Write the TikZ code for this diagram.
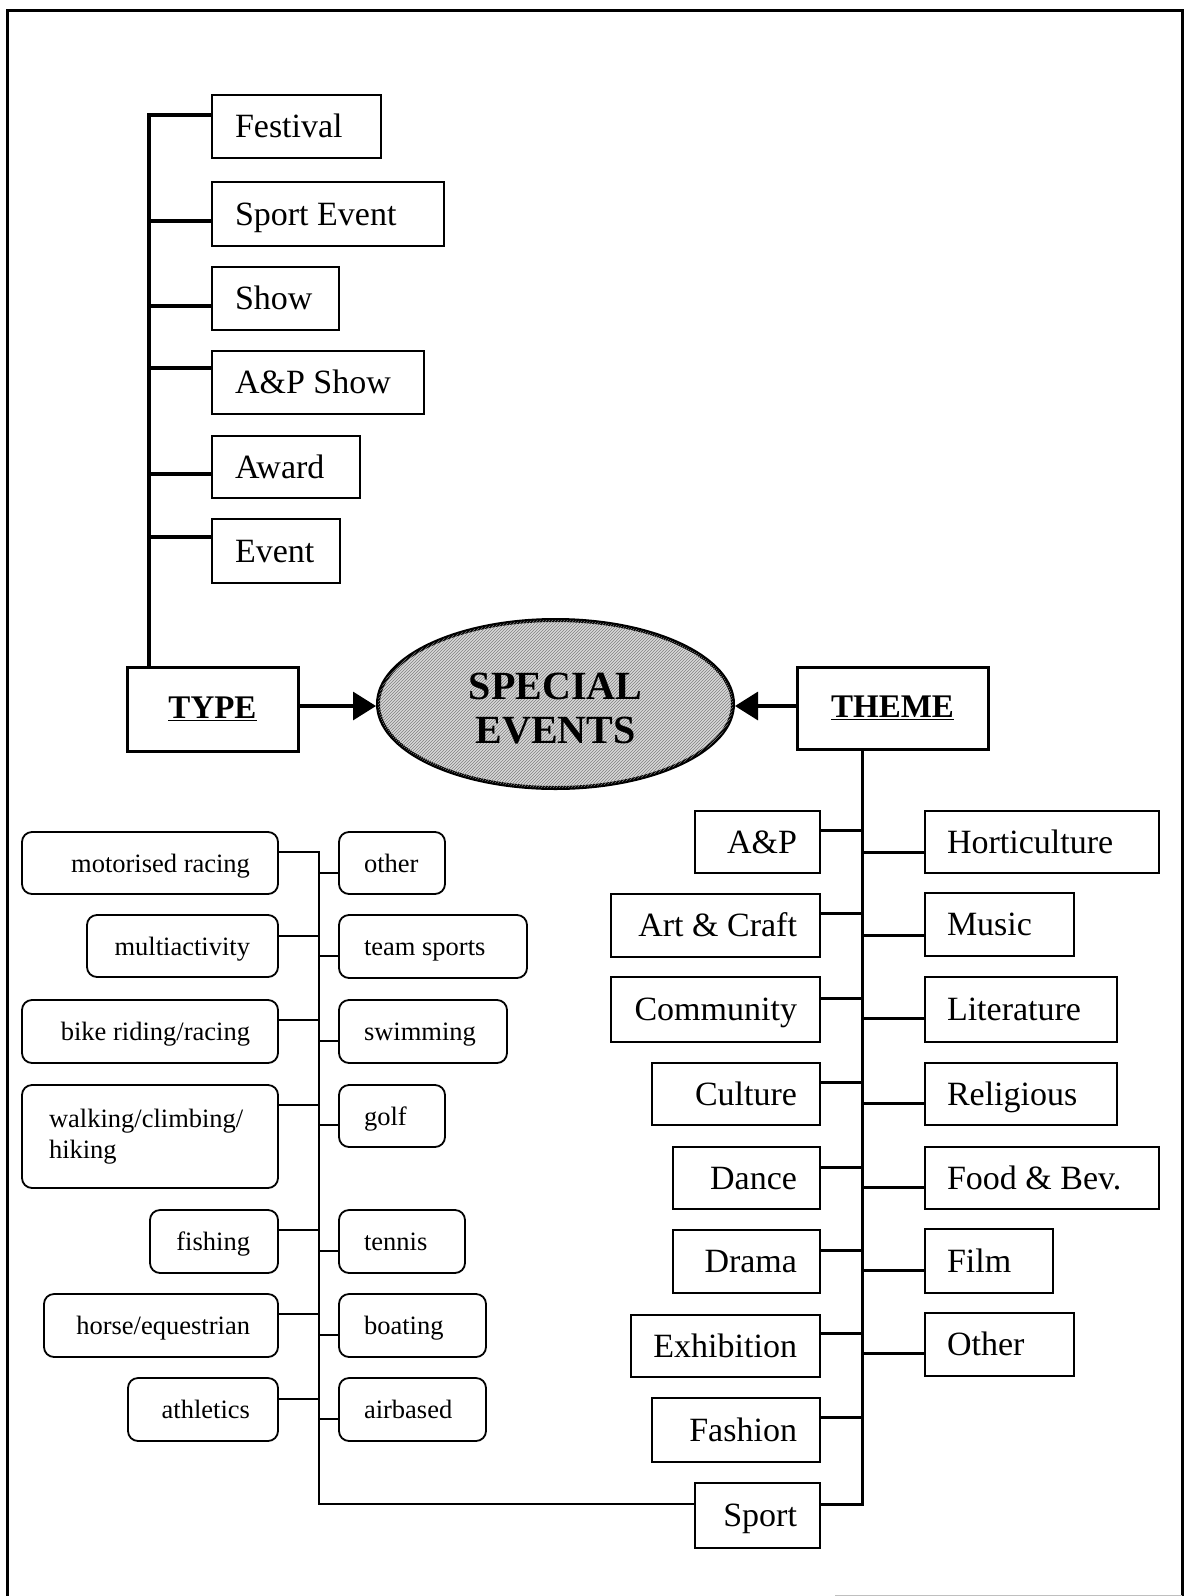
\documentclass[tikz,border=0pt]{standalone}
\usepackage{fontspec}
\setmainfont{Liberation Serif}
\usetikzlibrary{arrows.meta,shapes.geometric,patterns}

% \mkbox{style}{pad}{l|r|c}{name}{x1}{x2}{y1}{y2}{text}
\newcommand\mkbox[9]{%
  \pgfmathsetmacro\bw{#6-#5}%
  \pgfmathsetmacro\bh{#8-#7}%
  \pgfmathsetmacro\bcx{(#5+#6)/2}%
  \pgfmathsetmacro\bcy{(#7+#8)/2}%
  \pgfmathsetmacro\tw{#6-#5-2*#2}%
  \node[#1, inner xsep=#2pt, minimum width=\bw pt, minimum height=\bh pt]
    (#4) at (\bcx,\bcy) {\makebox[\tw pt][#3]{#9}};}

\tikzset{
  bx/.style={draw, line width=2pt, inner ysep=0pt, text height=22.5pt, text depth=0pt,
    font=\fontsize{34}{40}\selectfont},
  sbx/.style={draw, line width=1.8pt, rounded corners=10pt, inner ysep=0pt,
    text height=18pt, text depth=0pt, font=\fontsize{26.5}{31}\selectfont},
  wbx/.style={draw, line width=1.8pt, rounded corners=10pt, inner ysep=0pt,
    font=\fontsize{26.5}{31}\selectfont},
  hbx/.style={draw, line width=3pt, inner ysep=0pt,
    font=\bfseries\fontsize{33}{38}\selectfont},
  tlink/.style={line width=3.3pt},
  hlink/.style={line width=3pt},
  slink/.style={line width=2pt},
  arr/.style={line width=3.2pt, -{Triangle[length=23pt,width=28pt]}},
}

\begin{document}
\begin{tikzpicture}[x=1pt,y=-1pt]
\useasboundingbox (0,0) rectangle (1186,1596);

% outer frame
\draw[line width=3pt] (7,1596) -- (7,10) -- (1182,10) -- (1182,1596);
\draw[line width=1pt, gray!50] (835,1595) -- (1182,1595);

% central ellipse
\node[ellipse, draw, line width=4pt, minimum width=355pt, minimum height=168pt,
  fill=gray!30, postaction={pattern=north east lines, pattern color=black!50},
  font=\bfseries\fontsize{40}{44}\selectfont] (se) at (555.5,704)
  {\raisebox{-8.5pt}[\height][\depth]{\begin{tabular}{@{}c@{}}SPECIAL\\EVENTS\end{tabular}}};

% headings
\mkbox{hbx}{0}{c}{type}{127}{298}{667}{751}{\underline{TYPE}}
\mkbox{hbx}{0}{c}{theme}{797}{988}{667}{749}{\underline{THEME}}

\coordinate (ay) at (0,706);
\draw[arr] (type.east |- ay) -- (se.west |- ay);
\draw[arr] (theme.west |- ay) -- (se.east |- ay);

% ---- event types ----
\mkbox{bx}{23}{l}{fest}{212}{381}{95}{158}{Festival}
\mkbox{bx}{23}{l}{sportev}{212}{444}{182}{246}{Sport Event}
\mkbox{bx}{23}{l}{show}{212}{339}{267}{330}{Show}
\mkbox{bx}{23}{l}{apshow}{212}{424}{351}{414}{A\&P Show}
\mkbox{bx}{23}{l}{award}{212}{360}{436}{498}{Award}
\mkbox{bx}{23}{l}{event}{212}{340}{519}{583}{Event}

\coordinate (ty1) at (149,115);
\coordinate (ty2) at (149,221);
\coordinate (ty3) at (149,306);
\coordinate (ty4) at (149,368);
\coordinate (ty5) at (149,474);
\coordinate (ty6) at (149,537);
\draw[tlink] (ty1 -| fest.west) -- (ty1) -- (ty1 |- type.north);
\draw[tlink] (ty2) -- (ty2 -| sportev.west);
\draw[tlink] (ty3) -- (ty3 -| show.west);
\draw[tlink] (ty4) -- (ty4 -| apshow.west);
\draw[tlink] (ty5) -- (ty5 -| award.west);
\draw[tlink] (ty6) -- (ty6 -| event.west);

% ---- themes, left column ----
\mkbox{bx}{23}{r}{tap}{695}{820}{811}{873}{A\&P}
\mkbox{bx}{23}{r}{tart}{611}{820}{894}{957}{Art \& Craft}
\mkbox{bx}{23}{r}{tcom}{611}{820}{977}{1042}{Community}
\mkbox{bx}{23}{r}{tcul}{652}{820}{1063}{1125}{Culture}
\mkbox{bx}{23}{r}{tdan}{673}{820}{1147}{1209}{Dance}
\mkbox{bx}{23}{r}{tdra}{673}{820}{1230}{1293}{Drama}
\mkbox{bx}{23}{r}{texh}{631}{820}{1315}{1377}{Exhibition}
\mkbox{bx}{23}{r}{tfas}{652}{820}{1398}{1462}{Fashion}
\mkbox{bx}{23}{r}{tspo}{695}{820}{1483}{1548}{Sport}

% ---- themes, right column ----
\mkbox{bx}{22}{l}{hort}{925}{1159}{811}{873}{Horticulture}
\mkbox{bx}{22}{l}{music}{925}{1074}{893}{956}{Music}
\mkbox{bx}{22}{l}{lit}{925}{1117}{977}{1042}{Literature}
\mkbox{bx}{22}{l}{rel}{925}{1117}{1063}{1125}{Religious}
\mkbox{bx}{22}{l}{food}{925}{1159}{1147}{1209}{Food \& Bev.}
\mkbox{bx}{22}{l}{film}{925}{1053}{1229}{1293}{Film}
\mkbox{bx}{22}{l}{othr}{925}{1074}{1313}{1376}{Other}

\coordinate (hbot) at (862,1504);
\draw[hlink] (theme.south -| hbot) -- (hbot) -- (hbot -| tspo.east);
\foreach \n/\y in {tap/830, tart/913, tcom/998, tcul/1082, tdan/1167, tdra/1250, texh/1333, tfas/1417}
  \draw[hlink] (\n.east |- 0,\y) -- (862,\y);
\foreach \n/\y in {hort/852, music/935, lit/1018, rel/1103, food/1187, film/1270, othr/1353}
  \draw[hlink] (862,\y) -- (\n.west |- 0,\y);

% ---- sport kinds, left column ----
\mkbox{sbx}{28}{r}{mot}{22}{278}{832}{894}{motorised racing}
\mkbox{sbx}{28}{r}{mul}{87}{278}{915}{977}{multiactivity}
\mkbox{sbx}{28}{r}{bik}{22}{278}{1000}{1063}{bike riding/racing}
\mkbox{wbx}{27}{l}{wal}{22}{278}{1085}{1188}{\begin{tabular}{@{}l@{}}walking/climbing/\\hiking\end{tabular}}
\mkbox{sbx}{28}{r}{fis}{150}{278}{1210}{1273}{fishing}
\mkbox{sbx}{28}{r}{hor}{44}{278}{1294}{1357}{horse/equestrian}
\mkbox{sbx}{28}{r}{ath}{128}{278}{1378}{1441}{athletics}

% ---- sport kinds, right column ----
\mkbox{sbx}{25}{l}{oth}{339}{445}{832}{894}{other}
\mkbox{sbx}{25}{l}{team}{339}{527}{915}{978}{team sports}
\mkbox{sbx}{25}{l}{swi}{339}{507}{1000}{1063}{swimming}
\mkbox{sbx}{25}{l}{golf}{339}{445}{1085}{1147}{golf}
\mkbox{sbx}{25}{l}{ten}{339}{465}{1210}{1273}{tennis}
\mkbox{sbx}{25}{l}{boa}{339}{486}{1294}{1357}{boating}
\mkbox{sbx}{25}{l}{air}{339}{486}{1378}{1441}{airbased}

\coordinate (stop) at (319,852);
\coordinate (sbot) at (319,1504);
\draw[slink] (stop -| mot.east) -- (stop) -- (sbot) -- (sbot -| tspo.west);
\foreach \n/\y in {mul/936, bik/1020, wal/1105, fis/1230, hor/1314, ath/1399}
  \draw[slink] (\n.east |- 0,\y) -- (319,\y);
\foreach \n/\y in {oth/873, team/956, swi/1041, golf/1125, ten/1251, boa/1335, air/1419}
  \draw[slink] (319,\y) -- (\n.west |- 0,\y);
\end{tikzpicture}
\end{document}
